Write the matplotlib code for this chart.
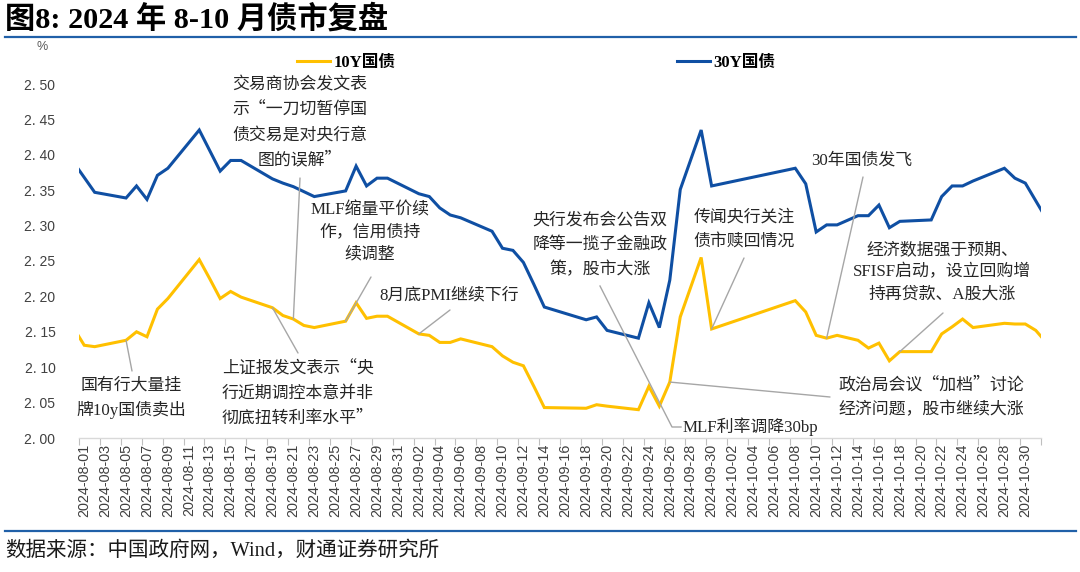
import matplotlib
matplotlib.use("Agg")
import matplotlib.pyplot as plt
import numpy as np
import pandas as pd
from matplotlib.lines import Line2D

# ---------------- data ----------------
dates = ['2024-07-31', '2024-08-01', '2024-08-02', '2024-08-05', '2024-08-06', '2024-08-07',
         '2024-08-08', '2024-08-09', '2024-08-12', '2024-08-13', '2024-08-14', '2024-08-15',
         '2024-08-16', '2024-08-19', '2024-08-20', '2024-08-21', '2024-08-22', '2024-08-23',
         '2024-08-26', '2024-08-27', '2024-08-28', '2024-08-29', '2024-08-30', '2024-09-02',
         '2024-09-03', '2024-09-04', '2024-09-05', '2024-09-06', '2024-09-09', '2024-09-10',
         '2024-09-11', '2024-09-12', '2024-09-13', '2024-09-14', '2024-09-18', '2024-09-19',
         '2024-09-20', '2024-09-23', '2024-09-24', '2024-09-25', '2024-09-26', '2024-09-27',
         '2024-09-29', '2024-09-30', '2024-10-08', '2024-10-09', '2024-10-10', '2024-10-11',
         '2024-10-12', '2024-10-14', '2024-10-15', '2024-10-16', '2024-10-17', '2024-10-18',
         '2024-10-21', '2024-10-22', '2024-10-23', '2024-10-24', '2024-10-25', '2024-10-28',
         '2024-10-29', '2024-10-30', '2024-10-31', '2024-11-01']

y30 = [2.389, 2.368, 2.347, 2.339, 2.356, 2.337, 2.371, 2.381, 2.435, 2.406, 2.377, 2.392,
       2.392, 2.366, 2.360, 2.355, 2.348, 2.341, 2.349, 2.384, 2.356, 2.367, 2.367, 2.345,
       2.341, 2.325, 2.315, 2.311, 2.292, 2.268, 2.265, 2.248, 2.217, 2.185, 2.167, 2.171,
       2.152, 2.141, 2.191, 2.156, 2.223, 2.351, 2.435, 2.356, 2.381, 2.359, 2.291, 2.301,
       2.301, 2.314, 2.314, 2.329, 2.297, 2.306, 2.308, 2.341, 2.356, 2.356, 2.363, 2.381,
       2.367, 2.360, 2.335, 2.310]

y10 = [2.155, 2.131, 2.129, 2.138, 2.150, 2.143, 2.182, 2.197, 2.252, 2.225, 2.197, 2.207,
       2.199, 2.184, 2.173, 2.168, 2.159, 2.156, 2.165, 2.191, 2.169, 2.172, 2.172, 2.147,
       2.145, 2.135, 2.135, 2.140, 2.129, 2.116, 2.107, 2.102, 2.073, 2.043, 2.042, 2.047,
       2.045, 2.040, 2.073, 2.045, 2.079, 2.171, 2.255, 2.154, 2.194, 2.178, 2.145, 2.141,
       2.145, 2.138, 2.127, 2.134, 2.109, 2.122, 2.122, 2.147, 2.157, 2.168, 2.156, 2.162,
       2.161, 2.161, 2.152, 2.135]

series_names = ['10Y国债', '30Y国债']
xtick_labels = list(pd.date_range('2024-08-01', '2024-10-30', freq='2D').strftime('%Y-%m-%d'))
ytick_values = [2.00, 2.05, 2.10, 2.15, 2.20, 2.25, 2.30, 2.35, 2.40, 2.45, 2.50]

title = '图8: 2024 年 8-10 月债市复盘'
source = '数据来源：中国政府网，Wind，财通证券研究所'

# annotation: (text, x_px, y_px, ha, leader_start_px, anchor_date)
notes = [
    ('交易商协会发文表\n示“一刀切暂停国\n债交易是对央行意\n图的误解”', 300, 122, 'center', (300, 178), '2024-08-21'),
    ('MLF缩量平价续\n作，信用债持\n续调整', 370, 232, 'center', (371, 277), '2024-08-26'),
    ('8月底PMI继续下行', 449, 295, 'center', (450, 310), '2024-09-02'),
    ('上证报发文表示“央\n行近期调控本意并非\n彻底扭转利率水平”', 222, 393, 'left', (298, 353), '2024-08-19'),
    ('国有行大量挂\n牌10y国债卖出', 131, 398, 'center', (132, 371), '2024-08-05'),
    ('传闻央行关注\n债市赎回情况', 744, 229, 'center', (744, 258), '2024-09-30'),
    ('30年国债发飞', 862, 160, 'center', (863, 177), '2024-10-11'),
    ('经济数据强于预期、\nSFISF启动，设立回购增\n持再贷款、A股大涨', 942, 272, 'center', (943, 313), '2024-10-18'),
    ('政治局会议“加档”讨论\n经济问题，股市继续大涨', 838, 397, 'left', (830, 397), '2024-09-26'),
]
extra_notes = [
    ('央行发布会公告双\n降等一揽子金融政\n策，股市大涨', 600, 244, 'center'),
    ('MLF利率调降30bp', 683, 427, 'left'),
]

# ---------------- figure ----------------
W, H = 1080, 572
fig = plt.figure(figsize=(W / 100, H / 100), dpi=100)
fig.patch.set_facecolor('white')

def fx(px):
    return px / W

def fy(py):
    return 1 - py / H

CJK_SERIF = ['Liberation Serif', 'Noto Sans CJK SC']
CJK_FIRST = ['Noto Sans CJK SC', 'Liberation Serif']

def fam(text):
    # texts without latin letters/digits use the CJK face first (full-width quotes)
    return CJK_FIRST if not any(c.isascii() and c.isalnum() for c in text) else CJK_SERIF

ax = fig.add_axes([fx(79), fy(438), fx(1041) - fx(79), fy(84) - fy(438)])

base = pd.Timestamp('2024-08-01')
xd = (pd.to_datetime(dates) - base).days.values.astype(float)

YELLOW = '#FFC000'
BLUE = '#0F4FA3'

l10, = ax.plot(xd, y10, color=YELLOW, lw=2.2, solid_joinstyle='miter', label=series_names[0])
l30, = ax.plot(xd, y30, color=BLUE, lw=2.2, solid_joinstyle='miter', label=series_names[1])

ax.set_xlim(-0.5, 91.5)
ax.set_ylim(2.0, 2.5)

# x ticks: tick marks at day boundaries, labels at day centers
ax.set_xticks(np.arange(-0.5, 92, 2))
ax.set_xticklabels([])
ax.tick_params(axis='x', which='major', length=5, width=0.8, color='#BFBFBF', direction='out')
lab_pos = (pd.to_datetime(xtick_labels) - base).days.values.astype(float)
ax.set_xticks(lab_pos, minor=True)
ax.set_xticklabels(xtick_labels, minor=True, rotation=90, fontsize=10.4,
                   family='Liberation Sans', color='#404040')
ax.tick_params(axis='x', which='minor', length=0, pad=4)

ax.set_yticks(ytick_values)
ax.set_yticklabels([f'{v:.2f}'.replace('.', '. ') for v in ytick_values],
                   fontsize=10, family='Liberation Sans', color='#404040')
ax.tick_params(axis='y', length=0, pad=17)

for s in ['top', 'right', 'left']:
    ax.spines[s].set_visible(False)
ax.spines['bottom'].set_color('#D9D9D9')
ax.spines['bottom'].set_linewidth(1.0)

# legend
leg = fig.legend(handles=[l10, l30], loc='center left',
                 bbox_to_anchor=(fx(297), fy(63)), bbox_transform=fig.transFigure,
                 ncol=2, frameon=False, borderpad=0, borderaxespad=0,
                 handlelength=2.0, handletextpad=0.18, columnspacing=16.9,
                 prop={'family': CJK_SERIF, 'weight': 'bold', 'size': 12})

# title and rules
fig.text(fx(5), fy(19), title, fontsize=21.8, weight='bold', family=CJK_SERIF,
         ha='left', va='center', color='black')
fig.add_artist(Line2D([fx(5), fx(1076)], [fy(37), fy(37)], color='#2060A8', lw=1.6))
fig.add_artist(Line2D([fx(5), fx(1076)], [fy(531), fy(531)], color='#2060A8', lw=1.6))
fig.text(fx(5), fy(551), source, fontsize=14.8, family=CJK_SERIF, ha='left', va='center',
         color='#1a1a1a')
fig.text(fx(42), fy(47), '%', fontsize=9, family='Liberation Sans', ha='center', va='center',
         color='#595959')

GRAY = '#A6A6A6'
NOTE_FS = 12.2
lookup10 = dict(zip(dates, y10))

for text, px, py, ha, (lx, ly), d in notes:
    fig.text(fx(px), fy(py), text, fontsize=NOTE_FS, family=fam(text), ha=ha, va='center',
             multialignment=ha, linespacing=1.5, color='#262626')
    xday = (pd.Timestamp(d) - base).days
    ax.annotate('', xy=(xday, lookup10[d]), xycoords='data',
                xytext=(fx(lx), fy(ly)), textcoords='figure fraction',
                arrowprops=dict(arrowstyle='-', color=GRAY, lw=1.0, shrinkA=0, shrinkB=0))

for text, px, py, ha in extra_notes:
    fig.text(fx(px), fy(py), text, fontsize=NOTE_FS, family=fam(text), ha=ha, va='center',
             multialignment='center', linespacing=1.5, color='#262626')

fig.add_artist(Line2D([fx(600), fx(672), fx(681)], [fy(286), fy(427), fy(427)],
                      color=GRAY, lw=1.0))

fig.savefig('out.png', dpi=100, facecolor='white')
